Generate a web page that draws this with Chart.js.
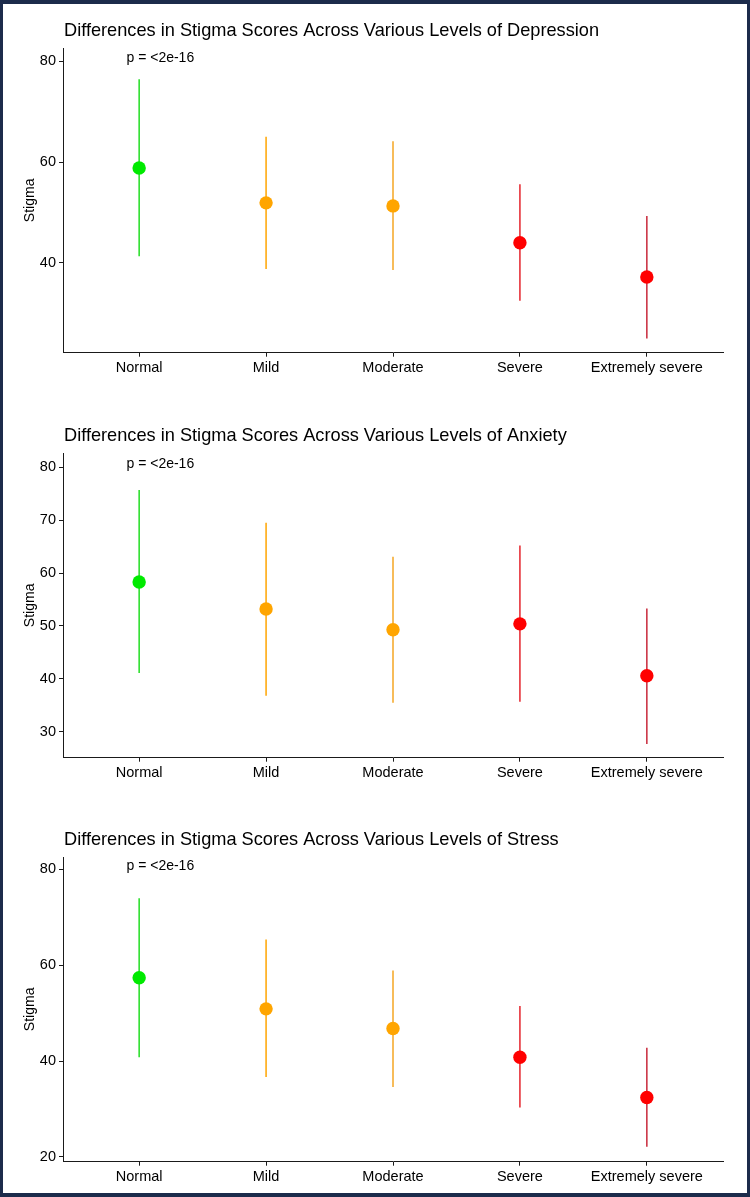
<!DOCTYPE html>
<html>
<head>
<meta charset="utf-8">
<script src="https://cdn.jsdelivr.net/npm/chart.js@4.4.1/dist/chart.umd.min.js"></script>
<style>
  html, body { margin: 0; padding: 0; }
  body { width: 750px; height: 1197px; background: #1c2b4b; position: relative; overflow: hidden; }
  #sheet { position: absolute; left: 3px; top: 4px; width: 744px; height: 1189px; background: #ffffff; }
  .panel { position: absolute; left: 0; width: 750px; height: 400px; }
</style>
</head>
<body>
<div id="sheet"></div>
<div class="panel" style="top:0px"><canvas id="chartDepression" width="750" height="400"></canvas></div>
<div class="panel" style="top:405px"><canvas id="chartAnxiety" width="750" height="400"></canvas></div>
<div class="panel" style="top:809px"><canvas id="chartStress" width="750" height="400"></canvas></div>

<script>
// ---- data ----
const categories = ["Normal", "Mild", "Moderate", "Severe", "Extremely severe"];

const depressionMean = [58.8, 51.9, 51.3, 44.0, 37.2];
const depressionLow  = [41.3, 38.8, 38.6, 32.5, 25.0];
const depressionHigh = [76.4, 65.0, 64.1, 55.6, 49.3];

const anxietyMean = [58.3, 53.2, 49.3, 50.4, 40.6];
const anxietyLow  = [41.1, 36.8, 35.5, 35.7, 27.7];
const anxietyHigh = [75.7, 69.5, 63.1, 65.2, 53.3];

const stressMean = [57.4, 50.9, 46.8, 40.8, 32.4];
const stressLow  = [40.8, 36.7, 34.6, 30.3, 22.1];
const stressHigh = [74.0, 65.4, 58.9, 51.5, 42.8];

const depressionTicks = [40, 60, 80];
const anxietyTicks = [30, 40, 50, 60, 70, 80];
const stressTicks = [20, 40, 60, 80];

const pLabel = "p = <2e-16";

// ---- styling ----
const pointColors = ["#00ea00", "#ffa500", "#ffa500", "#ff0000", "#ff0000"];
const lineColors  = ["#22dd22", "#ffa500", "#f5a623", "#e5242c", "#c8283a"];
const FONT = '"Liberation Sans", Arial, sans-serif';
const AXIS_COLOR = "#1a1a1a";

// title + p-value text, placed through the chart's own scales
const panelText = {
  id: "panelText",
  afterDraw(chart, args, opts) {
    const { ctx, chartArea, scales } = chart;
    ctx.save();
    ctx.fillStyle = "#000";
    ctx.textBaseline = "middle";
    ctx.textAlign = "left";
    ctx.font = "18.2px " + FONT;
    ctx.fillText(opts.title, chartArea.left + 1, chartArea.top - 17);
    ctx.font = "14px " + FONT;
    ctx.fillText(pLabel, scales.x.getPixelForValue(-0.1), scales.y.getPixelForValue(80.6));
    ctx.restore();
  }
};

function makePanel(id, title, mean, low, high, yTicks, yMin, yMax) {
  const datasets = [];

  datasets.push({
    label: "mean",
    data: categories.map((c, i) => ({ x: i, y: mean[i] })),
    pointBackgroundColor: pointColors,
    pointBorderWidth: 0,
    pointRadius: 6.7,
    showLine: false
  });

  // vertical error ranges
  categories.forEach((c, i) => {
    datasets.push({
      label: c + " range",
      data: [{ x: i, y: low[i] }, { x: i, y: high[i] }],
      borderColor: lineColors[i],
      borderWidth: 1.5,
      pointRadius: 0,
      showLine: true
    });
  });

  new Chart(document.getElementById(id), {
    type: "scatter",
    data: { datasets: datasets },
    options: {
      responsive: false,
      animation: false,
      layout: { padding: { top: 48, left: 0, right: 27, bottom: 17.3 } },
      plugins: {
        legend: { display: false },
        tooltip: { enabled: false },
        panelText: { title: title }
      },
      scales: {
        x: {
          type: "linear",
          min: -0.6,
          max: 4.6,
          afterBuildTicks: (axis) => { axis.ticks = categories.map((c, i) => ({ value: i })); },
          afterFit: (scale) => { scale.height = 30; },
          ticks: {
            callback: (v) => categories[v],
            color: "#000",
            font: { family: FONT, size: 14.5 },
            padding: 3,
            autoSkip: false,
            maxRotation: 0
          },
          grid: { drawOnChartArea: false, drawTicks: true, tickLength: 4, color: AXIS_COLOR },
          border: { display: true, color: AXIS_COLOR, width: 1 }
        },
        y: {
          min: yMin,
          max: yMax,
          afterBuildTicks: (axis) => { axis.ticks = yTicks.map((v) => ({ value: v })); },
          afterFit: (scale) => { scale.width = 63; },
          ticks: {
            color: "#000",
            font: { family: FONT, size: 14.5 },
            padding: 3
          },
          title: {
            display: true,
            text: "Stigma",
            color: "#000",
            font: { family: FONT, size: 14 },
            padding: { top: 21.6, bottom: 0 }
          },
          grid: { drawOnChartArea: false, drawTicks: true, tickLength: 4, color: AXIS_COLOR },
          border: { display: true, color: AXIS_COLOR, width: 1 }
        }
      }
    },
    plugins: [panelText]
  });
}

makePanel("chartDepression", "Differences in Stigma Scores Across Various Levels of Depression",
  depressionMean, depressionLow, depressionHigh, depressionTicks, 22.2, 82.6);
makePanel("chartAnxiety", "Differences in Stigma Scores Across Various Levels of Anxiety",
  anxietyMean, anxietyLow, anxietyHigh, anxietyTicks, 25.1, 82.7);
makePanel("chartStress", "Differences in Stigma Scores Across Various Levels of Stress",
  stressMean, stressLow, stressHigh, stressTicks, 19.0, 82.6);
</script>
</body>
</html>
